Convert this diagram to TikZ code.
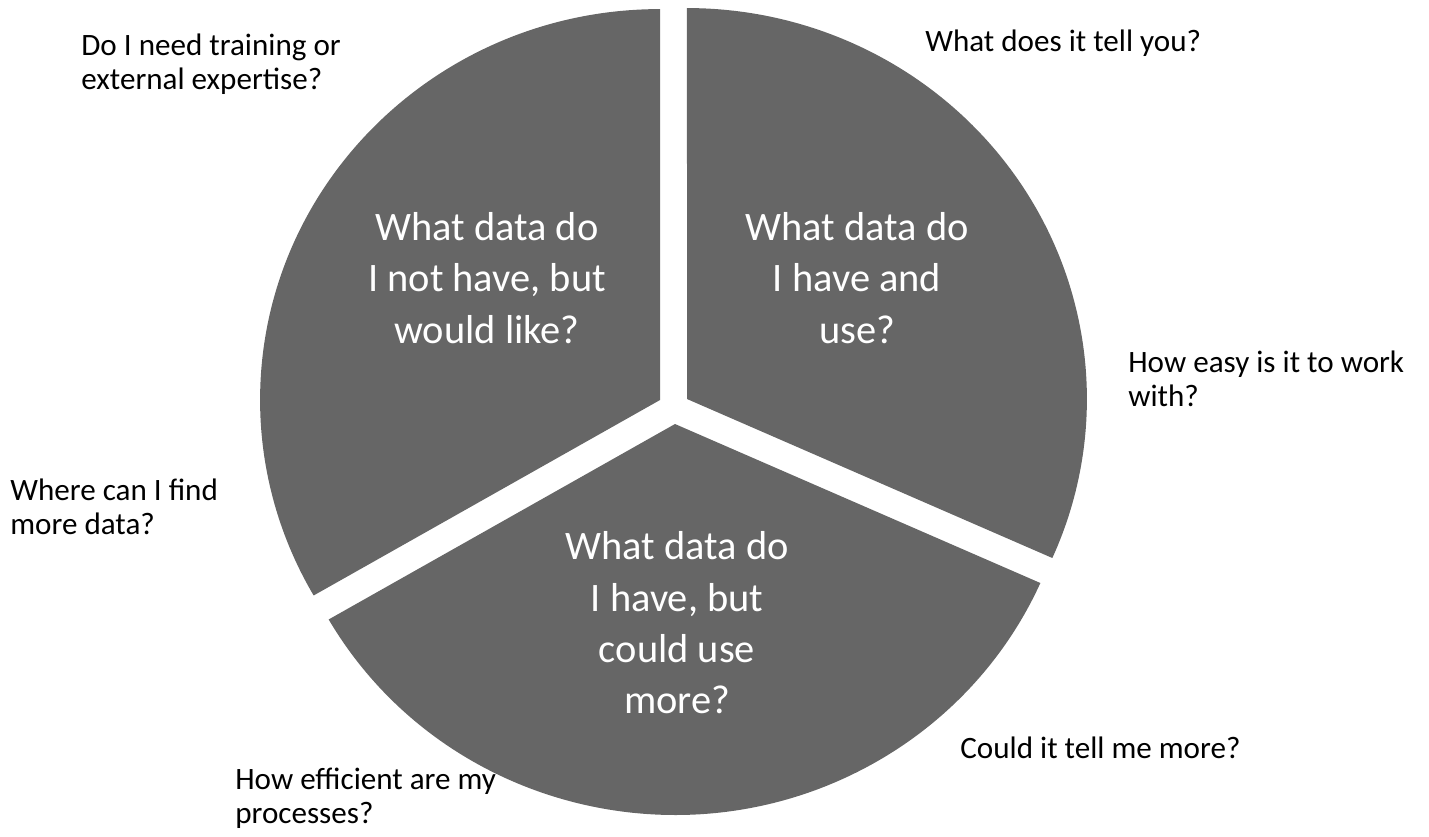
\documentclass[tikz,border=0pt]{standalone}
\usepackage{fontspec}
\setmainfont{Carlito}
\definecolor{piegray}{HTML}{666666}

\begin{document}
\begin{tikzpicture}[x=0.02cm,y=0.02cm,every path/.style={line join=miter},
  every node/.style={inner sep=0pt},
  slice/.style={fill=piegray},
  big/.style={text=white,align=center,font=\fontsize{23}{29.2}\selectfont},
  ask/.style={anchor=west,align=left,font=\fontsize{17.7}{19.3}\selectfont}]
\useasboundingbox (0,0) rectangle (1429,-836);
\coordinate (lc) at (660,-400);
\coordinate (rc) at (687,-399);
\coordinate (bc) at (675,-424);
\fill[slice] (lc) -- ++(90:7.82cm) arc[start angle=90,end angle=210,x radius=8cm,y radius=7.82cm] -- cycle;
\fill[slice] (rc) -- ++(8cm*0.9135,-7.82cm*0.4067) arc[start angle=-24,end angle=90,x radius=8cm,y radius=7.82cm] -- cycle;
\fill[slice] (bc) -- ++(-8cm*0.866,-7.82cm*0.5) arc[start angle=210,end angle=336,x radius=8cm,y radius=7.82cm] -- cycle;
\node[big]       (notyet) at (487,-278)   {What data do\\I not have, but\\would like?};
\node[big]       (haveuse) at (857,-278)  {What data do\\I have and\\use?};
\node[big]       (havemore) at (677,-623) {What data do\\I have, but\\could use\\more?};
\node[ask]       (train) at (81,-64)      {Do I need training or\\external expertise?};
\node[ask]       (tell) at (925,-43)      {What does it tell you?};
\node[ask]       (easy) at (1128,-379)    {How easy is it to work\\with?};
\node[ask]       (find) at (10,-507)      {Where can I find\\more data?};
\node[ask]       (more) at (960,-748)     {Could it tell me more?};
\node[ask]       (effic) at (235,-798)    {How efficient are my\\processes?};
\end{tikzpicture}
\end{document}
